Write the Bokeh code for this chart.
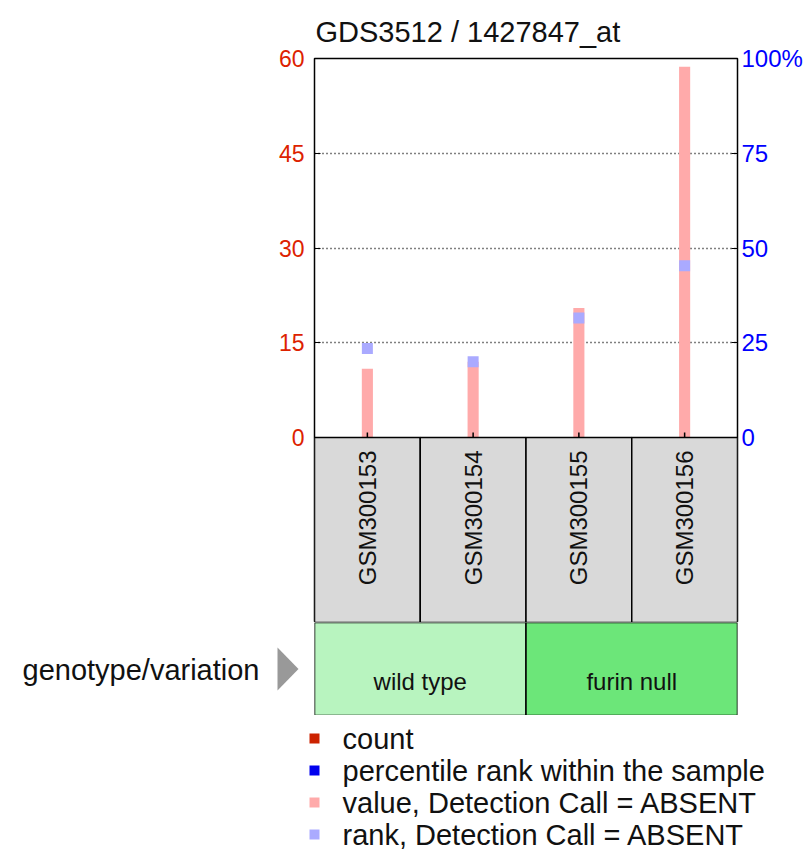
import math
from bokeh.plotting import figure
from bokeh.models import Range1d, FactorRange, LinearAxis, FixedTicker, Title
from bokeh.layouts import column, row
from bokeh.core.properties import value
from bokeh.embed import file_html
from bokeh.resources import INLINE

# ---- data ----
samples = ["GSM300153", "GSM300154", "GSM300155", "GSM300156"]
counts = [10.9, 12.0, 20.5, 58.7]          # value, Detection Call = ABSENT
ranks = [23.5, 20.0, 31.5, 45.3]           # percentile rank, Detection Call = ABSENT
genotype = ["wild type", "wild type", "furin null", "furin null"]
genotype_colors = {"wild type": "#b8f4bf", "furin null": "#6ce679"}
left_ticks = [0, 15, 30, 45, 60]
right_ticks = [0, 25, 50, 75, 100]
legend_labels = ["count", "percentile rank within the sample",
                 "value, Detection Call = ABSENT", "rank, Detection Call = ABSENT"]
legend_colors = ["#cc2200", "#0000ee", "#ffaaaa", "#aaaaff"]
title_text = "GDS3512 / 1427847_at"

# ---- layout constants (pixels) ----
FONT = "Liberation Sans"
TXT = "#111111"
W = 810
LEFT = 314
FRAME_W = 423
RIGHT = W - LEFT - FRAME_W
TOP = 58
CHART_H = 379      # value axis 0..60
SAMPLE_H = 185     # sample name boxes below the axis
GENO_H = 93
LEG_H = 136

ymax, pmax = 60, 100
y_below = -SAMPLE_H * ymax / CHART_H
p_below = -SAMPLE_H * pmax / CHART_H

# ---- main chart (with sample boxes under it) ----
p = figure(width=W, height=TOP + CHART_H + SAMPLE_H, x_range=FactorRange(*samples),
           y_range=Range1d(y_below, ymax),
           output_backend="svg", toolbar_location=None,
           min_border_left=LEFT, min_border_right=RIGHT, min_border_top=TOP, min_border_bottom=0,
           frame_width=FRAME_W, frame_height=CHART_H + SAMPLE_H)
p.frame_align = False
p.title = Title(text=title_text, align="left", text_font=FONT, text_font_size="29px",
                text_font_style="normal", text_color=TXT, offset=1, standoff=22)
p.extra_y_ranges = {"pct": Range1d(p_below, pmax)}
p.outline_line_color = "black"
p.outline_line_width = 1.5
p.background_fill_color = "white"
p.border_fill_color = "white"
p.xaxis.visible = False
p.xgrid.visible = False
p.ygrid.ticker = FixedTicker(ticks=[15, 30, 45])
p.ygrid.grid_line_color = "black"
p.ygrid.grid_line_dash = "1 3"
p.ygrid.grid_line_width = 1.6

ya = p.yaxis[0]
ya.ticker = FixedTicker(ticks=left_ticks)
ya.bounds = (0, ymax)
ya.major_label_text_color = "#dd2200"
ya.major_label_text_font = FONT
ya.major_label_text_font_size = "23px"
ya.major_tick_in = 6
ya.major_tick_out = 0
ya.minor_tick_line_color = None
ya.axis_line_color = "black"
ya.major_label_standoff = 10

ra = LinearAxis(y_range_name="pct", ticker=FixedTicker(ticks=right_ticks), bounds=(0, pmax))
ra.major_label_overrides = {100: "100%"}
ra.major_label_text_color = "#0000ff"
ra.major_label_text_font = FONT
ra.major_label_text_font_size = "24px"
ra.major_tick_in = 6
ra.major_tick_out = 0
ra.minor_tick_line_color = None
ra.axis_line_color = "black"
ra.major_label_standoff = 4
p.add_layout(ra, "right")

p.vbar(x=samples, top=counts, width=0.105, bottom=0, fill_color="#ffaaaa", line_color=None)
p.scatter(x=samples, y=ranks, y_range_name="pct", marker="square", size=11,
          fill_color="#aaaaff", line_color=None)
p.segment(x0=samples, y0=[0] * len(samples), x1=samples, y1=[0.8] * len(samples),
          line_color="black", line_width=1.5)

# sample boxes
p.rect(x=samples, y=[y_below / 2] * len(samples), width=1, height=-y_below,
       fill_color="#d9d9d9", line_color="black", line_width=1.5)
p.text(x=samples, y=[-13 * ymax / CHART_H] * len(samples), text=samples, angle=math.pi / 2,
       text_align="right", text_baseline="middle", text_font=value(FONT),
       text_font_size="24px", text_color=TXT)

# ---- genotype row ----
groups = []
for i, g in enumerate(genotype):
    if groups and groups[-1][0] == g:
        groups[-1][2] = i + 1
    else:
        groups.append([g, i, i + 1])

lf = figure(width=LEFT, height=GENO_H, x_range=Range1d(0, LEFT), y_range=Range1d(GENO_H, 0),
            output_backend="svg", toolbar_location=None, min_border=0, outline_line_color=None)
lf.frame_align = False
lf.axis.visible = False
lf.grid.visible = False
lf.text(x=[22], y=[47], text=["genotype/variation"], text_align="left",
        text_baseline="middle", text_font=value(FONT), text_font_size="29px", text_color=TXT)
lf.patch(x=[277, 277, 298], y=[25, 68, 46.5], fill_color="#999999", line_color=None)

gf = figure(width=FRAME_W + RIGHT, height=GENO_H, x_range=Range1d(0, len(samples)),
            y_range=Range1d(0, 1), output_backend="svg", toolbar_location=None,
            min_border_left=0, min_border_right=RIGHT, min_border_top=0, min_border_bottom=0,
            frame_width=FRAME_W, frame_height=GENO_H, outline_line_color=None)
gf.frame_align = False
gf.axis.visible = False
gf.grid.visible = False
gf.quad(left=[g[1] for g in groups], right=[g[2] for g in groups], bottom=0, top=1,
        fill_color=[genotype_colors[g[0]] for g in groups], line_color="black", line_width=1.5)
gf.text(x=[(g[1] + g[2]) / 2 for g in groups], y=[0.37] * len(groups), text=[g[0] for g in groups],
        text_align="center", text_baseline="middle", text_font=value(FONT),
        text_font_size="24px", text_color=TXT)

# ---- legend ----
lg = figure(width=W, height=LEG_H, x_range=Range1d(0, W), y_range=Range1d(LEG_H, 0),
            output_backend="svg", toolbar_location=None, min_border=0, outline_line_color=None)
lg.frame_align = False
lg.axis.visible = False
lg.grid.visible = False
rows_y = [23 + 32 * i for i in range(len(legend_labels))]
lg.scatter(x=[314] * len(rows_y), y=rows_y, marker="square", size=10,
           fill_color=legend_colors, line_color=None)
lg.text(x=[342] * len(rows_y), y=rows_y, text=legend_labels, text_align="left",
        text_baseline="middle", text_font=value(FONT), text_font_size="29px", text_color=TXT)

layout = column(p, row(lf, gf, spacing=0), lg, spacing=0)
open("out.html", "w").write(file_html(layout, INLINE))
